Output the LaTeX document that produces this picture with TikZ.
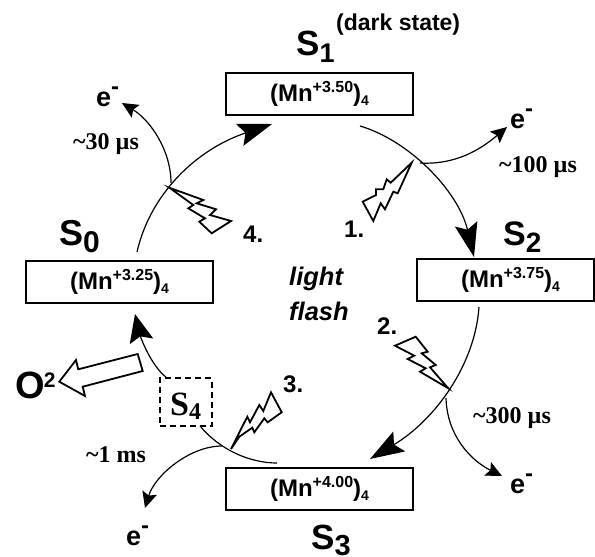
\documentclass[tikz,border=0pt]{standalone}
\usepackage{fontspec}
\setmainfont{Liberation Sans}
\newfontfamily\serifbf{Liberation Serif}
\usetikzlibrary{arrows.meta}
\newcommand{\fs}[1]{\fontsize{#1}{#1}\selectfont}
\newcommand{\mnlab}[1]{{\fs{24}\bfseries (Mn\raisebox{8.5pt}{\fs{16}#1})\raisebox{-4pt}{\fs{14}4}}}
\newcommand{\statelab}[4][7pt]{{\fs{#3}\bfseries S\raisebox{-#1}{\fs{#4}#2}}}
\newcommand{\elab}{{\fs{27}\bfseries e\raisebox{12pt}{\fs{24}-}}}
\tikzset{
  box/.style={draw=black,line width=1.6pt,minimum height=42pt,inner sep=0pt,text=black},
  txt/.style={anchor=base west,inner sep=0pt,text=black},
  num/.style={txt,font=\fs{24}\bfseries},
  timing/.style={txt,font=\serifbf\bfseries\fs{24}},
  curve/.style={draw=black,line width=1.2pt},
  bigtip/.style={curve,-{Stealth[length=34pt,width=23pt,inset=6pt]}},
  smalltip/.style={curve,-{Stealth[length=16pt,width=15pt,inset=3pt]}},
  bolt/.style={draw=black,line width=1.8pt,fill=white,line join=miter,miter limit=10},
}
\begin{document}
\begin{tikzpicture}[x=1pt,y=-1pt]
\useasboundingbox (0,0) rectangle (595,557);
% boxes
\node[box,minimum width=187pt] (mn1) at (319.5,94) {\mnlab{+3.50}};
\node[box,minimum width=187pt] (mn0) at (119.5,282) {\mnlab{+3.25}};
\node[box,minimum width=177pt] (mn2) at (505.5,280) {\hspace*{10pt}\mnlab{+3.75}};
\node[box,minimum width=187pt] (mn3) at (319.5,489) {\mnlab{+4.00}};
\node[draw=black,line width=2pt,dash pattern=on 6pt off 4pt,minimum width=51.7pt,minimum height=47.7pt,inner sep=0pt] (s4box) at (185.8,402.2) {};
% state names
\node[txt] (s1) at (296,55) {\statelab{1}{35}{27}};
\node[txt] (dark) at (336,30) {\fs{23}\bfseries (dark state)};
\node[txt] (s2) at (503,245) {\statelab{2}{34}{28}};
\node[txt] (s0) at (59,245) {\statelab{0}{36}{30}};
\node[txt] (s3) at (311,549) {\statelab[6pt]{3}{35}{29}};
\node[txt,font=\serifbf\bfseries\fs{34}] (s4) at (170,415) {S\raisebox{-4pt}{\fs{24}4}};
% centre
\node[txt,font=\fs{25.5}\bfseries\itshape] (light) at (289,285) {light};
\node[txt,font=\fs{25.5}\bfseries\itshape] (flash) at (289,320) {flash};
% numbers
\node[num] (n1) at (344,237) {1.};
\node[num] (n2) at (377,334) {2.};
\node[num] (n3) at (283,392) {3.};
\node[num] (n4) at (243,242) {4.};
% timings
\node[timing] (t30) at (73,149) {\string~30 µs};
\node[timing] (t100) at (499,172) {\string~100 µs};
\node[timing] (t300) at (473,423) {\string~300 µs};
\node[timing] (t1) at (86,462) {\string~1 ms};
% electrons
\node[txt] (e0) at (96,106) {\elab};
\node[txt] (e1) at (510,128) {\elab};
\node[txt] (e2) at (510,493) {\elab};
\node[txt] (e3) at (126,545) {\elab};
% O2
\node[txt] (o2) at (15,398) {\fs{38}\bfseries O\hspace{-1pt}\raisebox{11pt}{\fs{21}2}};
% connector ends
\coordinate (a1) at (360,126); \coordinate (a2) at (474,257);
\coordinate (b1) at (479,307); \coordinate (b2) at (370,459);
\coordinate (c1) at (277,463); \coordinate (c2) at (200,426);
\coordinate (d1) at (167,378); \coordinate (d2) at (135,314);
\coordinate (f1) at (137,252); \coordinate (f2) at (272,124);
\coordinate (g1) at (171,183); \coordinate (g2) at (122,103);
\coordinate (h1) at (420,163); \coordinate (h2) at (507,127);
\coordinate (i1) at (446,398); \coordinate (i2) at (502,476);
\coordinate (j1) at (222,446); \coordinate (j2) at (145,508);
% main cycle
\draw[bigtip] (a1) .. controls (408,140) and (458,190) .. (a2);
\draw[bigtip] (b1) .. controls (475,365) and (435,420) .. (b2);
\draw[curve] (c1) .. controls (250,463) and (220,450) .. (c2);
\draw[curve,-{Stealth[length=28pt,width=24pt,inset=5pt]}] (d1) .. controls (150,365) and (140,335) .. (d2);
\draw[bigtip] (f1) .. controls (150,195) and (195,150) .. (f2);
% electron branches
\draw[smalltip] (g1) .. controls (171,150) and (150,120) .. (g2);
\draw[smalltip] (h1) .. controls (455,165) and (480,150) .. (h2);
\draw[smalltip] (i1) .. controls (447,435) and (470,460) .. (i2);
\draw[smalltip] (j1) .. controls (190,446) and (155,475) .. (j2);
% lightning bolts
\draw[bolt] (411.7,162.7)--(390.7,182.7)--(386.7,179.3)--(383.3,189.3)--(376,189.3)--(376,195)--(362.7,201.7)--(373.3,221)--(380.7,203.3)--(385,209.3)--(393.3,191.7)--(397.7,193.3)--cycle;
\draw[bolt] (169.3,187.7)--(203.3,200)--(196.7,203.3)--(216,209.3)--(210,215)--(231,221)--(211.7,233.3)--(199.3,221.7)--(205,218.3)--(188.3,208.3)--(193.3,205)--cycle;
\draw[bolt] (448.3,388.3)--(430,367.3)--(435.7,365)--(421.7,353.3)--(427.7,351.7)--(415.7,336.7)--(395,345.7)--(414.3,355.7)--(407.7,359)--(425.7,368.3)--(420,371.7)--cycle;
\draw[bolt] (231,449)--(247.3,416.7)--(250,422.3)--(259.3,405)--(263.3,411)--(271,392.3)--(281.7,412.3)--(267.7,422.3)--(264.3,418.3)--(254.3,432.3)--(252.3,427.7)--(239.3,436.7)--cycle;
% O2 arrow
\draw[bolt] (59.3,381.7)--(76,360)--(78.3,369.3)--(137.7,354)--(142.7,371)--(82.7,386.7)--(85,396)--cycle;
\end{tikzpicture}
\end{document}
